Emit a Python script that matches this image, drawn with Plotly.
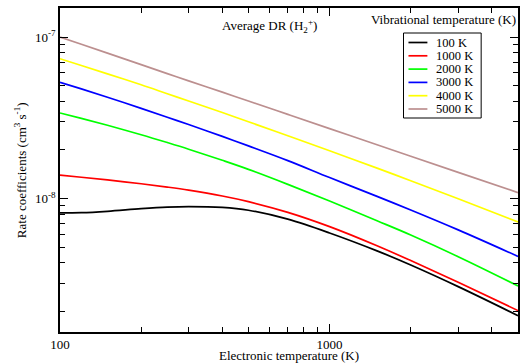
import plotly.graph_objects as go

# Electronic temperature (K) sample points
te = [100, 120, 150, 200, 250, 300, 400, 500, 700, 1000, 1500, 2000, 3000, 5000]
k_100 = [8.147e-9, 8.177e-9, 8.342e-9, 8.661e-9, 8.857e-9, 8.921e-9, 8.818e-9, 8.472e-9, 7.456e-9,
         6.125e-9, 4.746e-9, 3.880e-9, 2.851e-9, 1.885e-9]
k_1000 = [1.3964e-8, 1.3552e-8, 1.3042e-8, 1.2355e-8, 1.1782e-8, 1.1275e-8, 1.0375e-8, 9.575e-9, 8.222e-9,
          6.708e-9, 5.105e-9, 4.132e-9, 3.030e-9, 2.026e-9]
k_2000 = [3.39e-8, 3.14e-8, 2.845e-8, 2.486e-8, 2.223e-8, 2.022e-8, 1.726e-8, 1.517e-8, 1.225e-8,
          9.66e-9, 7.29e-9, 5.95e-9, 4.37e-9, 2.88e-9]
k_3000 = [5.25e-8, 4.775e-8, 4.24e-8, 3.62e-8, 3.19e-8, 2.876e-8, 2.427e-8, 2.119e-8, 1.718e-8,
          1.35e-8, 1.032e-8, 8.50e-9, 6.40e-9, 4.385e-9]
k_4000 = [7.345e-8, 6.67e-8, 5.92e-8, 5.07e-8, 4.46e-8, 4.02e-8, 3.41e-8, 2.99e-8, 2.449e-8,
          1.977e-8, 1.543e-8, 1.29e-8, 9.98e-9, 7.16e-9]
k_5000 = [1.00e-7, 9.02e-8, 7.95e-8, 6.75e-8, 5.94e-8, 5.36e-8, 4.56e-8, 4.02e-8, 3.32e-8,
          2.71e-8, 2.155e-8, 1.83e-8, 1.454e-8, 1.089e-8]

names = ["100 K", "1000 K", "2000 K", "3000 K", "4000 K", "5000 K"]
values = [k_100, k_1000, k_2000, k_3000, k_4000, k_5000]
colors = ["black", "red", "#00ff00", "blue", "yellow", "#bc8f8f"]

x_major = [100, 1000]
x_major_text = ["100", "1000"]
x_minor = [200, 300, 400, 500, 600, 700, 800, 900, 2000, 3000, 4000, 5000]
y_major = [1e-8, 1e-7]
y_major_text = ["10<sup>-8</sup>", "10<sup>-7</sup>"]
y_minor = [2e-9, 3e-9, 4e-9, 5e-9, 6e-9, 7e-9, 8e-9, 9e-9,
           2e-8, 3e-8, 4e-8, 5e-8, 6e-8, 7e-8, 8e-8, 9e-8]

font = "Liberation Serif, Times New Roman, serif"

W, H, L, T, R, B = 521, 363, 60, 8, 1, 31
pw, ph = W - L - R, H - T - B
def px(x): return (x - L) / pw
def py(y): return 1 - (y - T) / ph

fig = go.Figure()
for name, ys, col in zip(names, values, colors):
    fig.add_trace(go.Scatter(x=te, y=ys, mode="lines", name=name,
                             line=dict(color=col, width=1.7, shape="spline", smoothing=1.0)))

axis_common = dict(
    ticks="inside", ticklen=8, tickwidth=1, tickcolor="black",
    showline=True, linecolor="black", linewidth=1.5, mirror="ticks",
    showgrid=False, zeroline=False,
    tickfont=dict(family=font, size=13),
)

fig.update_layout(
    width=W, height=H,
    margin=dict(l=L, r=R, t=T, b=B),
    paper_bgcolor="white", plot_bgcolor="white",
    font=dict(family=font, size=13, color="black"),
    showlegend=False,
    xaxis=dict(type="log", range=[2, 3.69897],
               tickmode="array", tickvals=x_major, ticktext=x_major_text,
               minor=dict(tickmode="array", tickvals=x_minor, ticks="inside",
                          ticklen=5, tickcolor="black", showgrid=False),
               **axis_common),
    yaxis=dict(type="log", range=[-8.826, -6.82],
               tickmode="array", tickvals=y_major, ticktext=y_major_text,
               minor=dict(tickmode="array", tickvals=y_minor, ticks="inside",
                          ticklen=5, tickcolor="black", showgrid=False),
               **axis_common),
)

annotations = [
    dict(text="Average DR (H<sub>2</sub><sup>+</sup>)", x=px(270), y=py(26)),
    dict(text="Vibrational temperature (K)", x=px(445), y=py(19)),
    dict(text="Electronic temperature (K)", x=px(290), y=py(355)),
    dict(text="Rate coefficients (cm<sup>3</sup> s<sup>-1</sup>)", x=px(20), y=py(170), textangle=-90),
]
for a in annotations:
    a.update(xref="paper", yref="paper", showarrow=False, xanchor="center", yanchor="middle",
             font=dict(family=font, size=13), borderpad=0)

shapes = [dict(type="rect", xref="paper", yref="paper",
               x0=px(405), x1=px(483), y0=py(33), y1=py(118),
               line=dict(color="black", width=1), fillcolor="white", layer="above")]
for i, (name, col) in enumerate(zip(names, colors)):
    yy = py(42.5 + i * 13.3)
    shapes.append(dict(type="line", xref="paper", yref="paper",
                       x0=px(410), x1=px(429), y0=yy, y1=yy,
                       line=dict(color=col, width=1.7), layer="above"))
    annotations.append(dict(text=name, xref="paper", yref="paper", x=px(437), y=yy,
                            xanchor="left", yanchor="middle", showarrow=False, borderpad=0,
                            font=dict(family=font, size=12.5)))

fig.update_layout(annotations=annotations, shapes=shapes)

fig.write_html("out.html")
